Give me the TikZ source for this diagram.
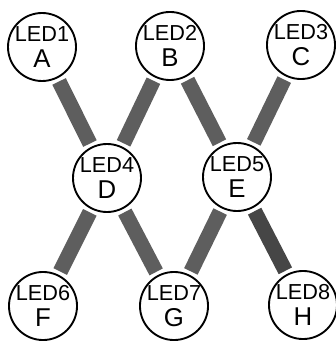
\documentclass[tikz,border=0pt]{standalone}
\usepackage{fontspec}
\setmainfont{Liberation Sans}
\usepackage{tikz}
\definecolor{barra}{HTML}{5E5E5E}
\tikzset{
  led/.style={circle,draw=black,line width=1.6pt,fill=white,minimum size=2.04cm,inner sep=0pt,align=center,
    font=\fontsize{18.5}{19.6}\selectfont},
  enlace/.style={line width=0.45cm,color=barra,shorten <=3pt,shorten >=3pt},
}
\newcommand{\ledtxt}[2]{#1\\[2.5pt]{\fontsize{22}{19.6}\selectfont #2}}

\begin{document}
\begin{tikzpicture}[x=0.03cm,y=-0.03cm]
  \useasboundingbox (0,0) rectangle (335,342);
  \node[led] (a) at (42,47) {\ledtxt{LED1}{A}};
  \node[led] (b) at (170,46) {\ledtxt{LED2}{B}};
  \node[led] (c) at (301,45) {\ledtxt{LED3}{C}};
  \node[led] (d) at (107,178) {\ledtxt{LED4}{D}};
  \node[led] (e) at (237,177) {\ledtxt{LED5}{E}};
  \node[led] (f) at (43,306) {\ledtxt{LED6}{F}};
  \node[led] (g) at (174,306) {\ledtxt{LED7}{G}};
  \node[led] (h) at (303,305) {\ledtxt{LED8}{H}};
  \foreach \u/\v in {a/d,b/d,b/e,c/e,d/f,d/g,e/g} \draw[enlace] (\u) -- (\v);
  \draw[enlace,color=barra!75!black] (e) -- (h);
\end{tikzpicture}
\end{document}
